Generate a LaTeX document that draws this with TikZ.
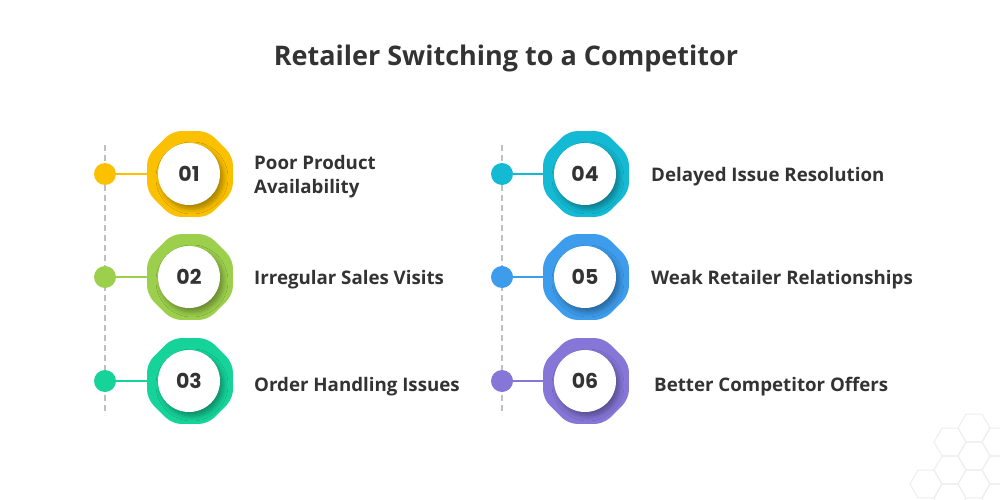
\documentclass[tikz,border=0pt]{standalone}
\usepackage{fontspec}
\setmainfont{Open Sans}
\newfontfamily\numfont{Poppins}
\usetikzlibrary{shapes.geometric,shadows.blur}
\definecolor{ink}{HTML}{333333}
\definecolor{cOne}{HTML}{FBC100}
\definecolor{cTwo}{HTML}{9CCF4B}
\definecolor{cThree}{HTML}{16D39A}
\definecolor{cFour}{HTML}{14BAD3}
\definecolor{cFive}{HTML}{3D9CEB}
\definecolor{cSix}{HTML}{8676D8}

\begin{document}
\begin{tikzpicture}[x=1pt,y=-1pt,
  badge/.style={regular polygon,regular polygon sides=8,minimum size=93pt,inner sep=0pt,rounded corners=9pt,fill=#1},
  disc/.style={circle,fill=white,minimum size=62pt,inner sep=0pt,text=ink,font=\numfont\bfseries\fontsize{20.5}{24}\selectfont,
    blur shadow={shadow xshift=3pt,shadow yshift=-4pt,shadow blur steps=8,shadow blur radius=5pt,shadow opacity=35}},
  dot/.style={circle,minimum size=22pt,inner sep=0pt,fill=#1},
  lbl/.style={anchor=west,align=left,inner sep=0pt,text=ink,font=\bfseries\fontsize{18.7}{24}\selectfont},
  guide/.style={draw=gray!50,line width=1.5pt,dash pattern=on 6pt off 4pt},
  hexa/.style={regular polygon,regular polygon sides=6,minimum size=32pt,inner sep=0pt,draw=gray!13,line width=1pt}]
\useasboundingbox[fill=white] (0,0) rectangle (1000,500);
\node[text=ink,font=\bfseries\fontsize{27}{32}\selectfont] (title) at (506,58) {Retailer Switching to a Competitor};

% faint hexagon pattern
\begin{scope}
\clip (900,400) rectangle (1000,500);
\foreach \hx/\hy in {926/484,950/442,950/470,950/498,974/428,974/456,974/484,998/442,998/470,998/498}
  \node[hexa] at (\hx,\hy) {};
\end{scope}

% left column
\coordinate (gA) at (105,145); \coordinate (gB) at (105,415);
\draw[guide] (gA)--(gB);
\node[dot=cOne] (d1) at (105,174) {}; \node[badge=cOne] (o1) at (190,174) {};
\node[dot=cTwo] (d2) at (105,277) {}; \node[badge=cTwo] (o2) at (190,277) {};
\node[dot=cThree] (d3) at (105,381) {}; \node[badge=cThree] (o3) at (190,381) {};
\draw[cOne,line width=2pt] (d1)--(o1); \draw[cTwo,line width=2pt] (d2)--(o2); \draw[cThree,line width=2pt] (d3)--(o3);
\node[disc] (n1) at (189,174) {01};
\node[disc] (n2) at (189,277) {02};
\node[disc] (n3) at (189,381) {03};
\node[lbl] (l1) at (254,177) {Poor Product\\Availability};
\node[lbl] (l2) at (254,280) {Irregular Sales Visits};
\node[lbl] (l3) at (254,387) {Order Handling Issues};

% right column
\coordinate (gC) at (502,145); \coordinate (gD) at (502,415);
\draw[guide] (gC)--(gD);
\node[dot=cFour] (d4) at (502,174) {}; \node[badge=cFour] (o4) at (586,174) {};
\node[dot=cFive] (d5) at (502,277) {}; \node[badge=cFive] (o5) at (586,277) {};
\node[dot=cSix] (d6) at (502,381) {}; \node[badge=cSix] (o6) at (586,381) {};
\draw[cFour,line width=2pt] (d4)--(o4); \draw[cFive,line width=2pt] (d5)--(o5); \draw[cSix,line width=2pt] (d6)--(o6);
\node[disc] (n4) at (585,174) {04};
\node[disc] (n5) at (585,277) {05};
\node[disc] (n6) at (585,381) {06};
\node[lbl] (l4) at (651,177) {Delayed Issue Resolution};
\node[lbl] (l5) at (651,280) {Weak Retailer Relationships};
\node[lbl] (l6) at (654,387) {Better Competitor Offers};
\end{tikzpicture}
\end{document}
